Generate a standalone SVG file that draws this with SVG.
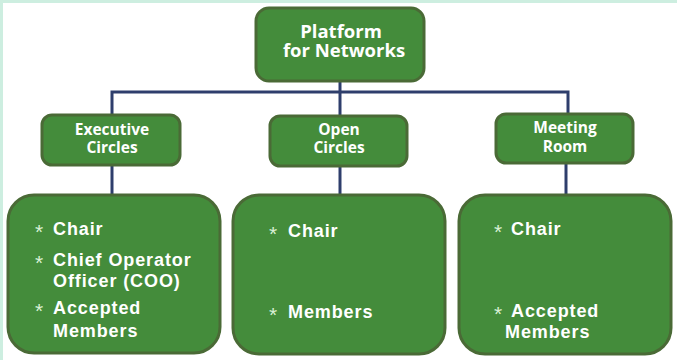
<svg xmlns="http://www.w3.org/2000/svg" width="677" height="360" viewBox="0 0 677 360">
<style>
.box{fill:#448c3b;stroke:#4a6a36;stroke-width:3}
.hd{font-family:"Open Sans","Liberation Sans",sans-serif;font-weight:700;fill:#ffffff;text-anchor:middle}
.it{font-family:"Liberation Sans",Arial,sans-serif;font-weight:700;font-size:18px;letter-spacing:0.9px;fill:#ffffff}
.st{font-family:"Liberation Sans",Arial,sans-serif;font-weight:400;font-size:21px;fill:#d9f0d4}
.ln{fill:none;stroke:#2e3e6c;stroke-width:3}
</style>
<rect x="0" y="0" width="677" height="360" fill="#ffffff"/>
<rect x="0" y="0" width="677" height="3" fill="#cdeee0"/>
<rect x="0" y="0" width="3" height="360" fill="#cdeee0"/>
<g id="connectors">
<path class="ln" d="M340,82 V118"/>
<path class="ln" d="M112,117 V92 H568 V115"/>
<path class="ln" d="M112,165 V196"/>
<path class="ln" d="M340,166 V196"/>
<path class="ln" d="M566,163 V196"/>
</g>
<g id="platform">
<rect class="box" x="256" y="8" width="168" height="73" rx="13"/>
<text class="hd" x="341" y="38" font-size="18.5">Platform</text>
<text class="hd" x="344" y="57" font-size="18.5">for Networks</text>
</g>
<g id="executive">
<rect class="box" x="42" y="115" width="138" height="50" rx="10"/>
<text class="hd" x="112" y="135" font-size="15.5">Executive</text>
<text class="hd" x="112" y="153" font-size="15.5">Circles</text>
</g>
<g id="open">
<rect class="box" x="270" y="116" width="137" height="50" rx="10"/>
<text class="hd" x="339" y="135" font-size="15.5">Open</text>
<text class="hd" x="339" y="153" font-size="15.5">Circles</text>
</g>
<g id="meeting">
<rect class="box" x="496" y="114" width="137" height="49" rx="10"/>
<text class="hd" x="565" y="133" font-size="15.5">Meeting</text>
<text class="hd" x="565" y="152" font-size="15.5">Room</text>
</g>
<g id="exec-members">
<rect class="box" x="8" y="195" width="212" height="158" rx="26"/>
<text class="st" x="35" y="239">*</text><text class="it" x="53" y="235">Chair</text>
<text class="st" x="35" y="270">*</text><text class="it" x="53" y="266">Chief Operator</text>
<text class="it" x="53" y="287">Officer (COO)</text>
<text class="st" x="35" y="318">*</text><text class="it" x="53" y="314">Accepted</text>
<text class="it" x="53" y="337">Members</text>
</g>
<g id="open-members">
<rect class="box" x="233" y="195" width="212" height="159" rx="26"/>
<text class="st" x="269" y="241">*</text><text class="it" x="288" y="237">Chair</text>
<text class="st" x="269" y="322">*</text><text class="it" x="288" y="318">Members</text>
</g>
<g id="meeting-members">
<rect class="box" x="459" y="195" width="212" height="159" rx="26"/>
<text class="st" x="494" y="239">*</text><text class="it" x="511" y="235">Chair</text>
<text class="st" x="494" y="321">*</text><text class="it" x="511" y="317">Accepted</text>
<text class="it" x="505" y="338">Members</text>
</g>
</svg>
